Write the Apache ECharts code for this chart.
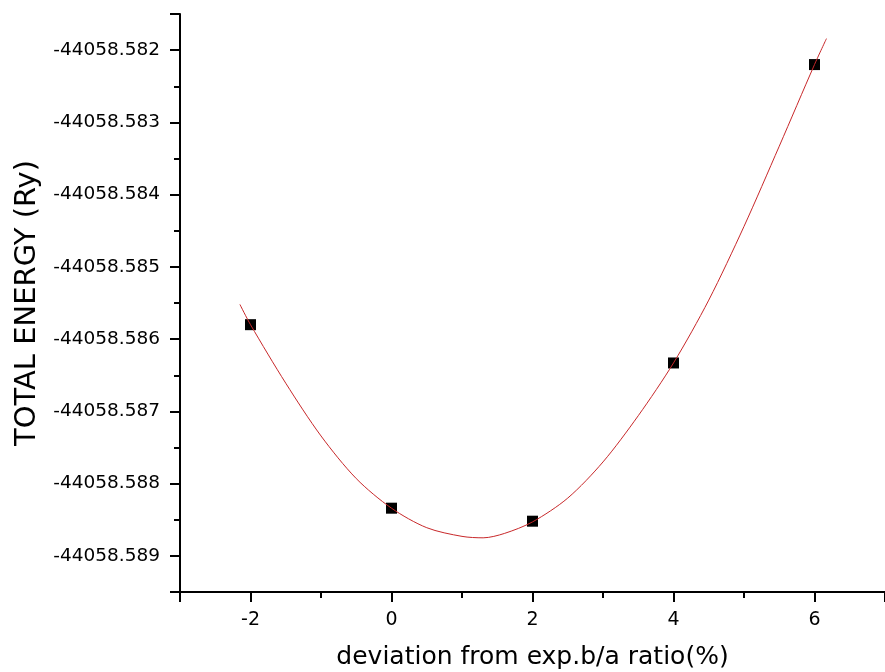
<!DOCTYPE html>
<html lang="en">
<head>
    <meta charset="UTF-8">
    <title>total energy vs b/a deviation</title>
    <script src="https://cdn.jsdelivr.net/npm/echarts@6/dist/echarts.min.js"></script>
    <style>
        html, body { margin: 0; padding: 0; background: #fff; }
        #chart { width: 885px; height: 672px; }
    </style>
</head>
<body>
<div id="chart"></div>

<script>
    // measured points (x = deviation %, y = total energy in Ry)
    var pointX = [-2, 0, 2, 4, 6];
    var pointE = [-44058.5858, -44058.58834, -44058.58852, -44058.58633, -44058.5822];

    // fitted curve
    var curveX = [-2.15, -2, -1.5, -1, -0.5, 0, 0.5, 1, 1.3, 1.6, 2, 2.5, 3, 3.5, 4, 4.5, 5, 5.5, 6, 6.17];
    var curveE = [-44058.58552, -44058.5858, -44058.58661, -44058.58734, -44058.58793, -44058.58834,
        -44058.58861, -44058.58873, -44058.58875, -44058.58869, -44058.58853, -44058.5882,
        -44058.5877, -44058.58706, -44058.58633, -44058.58546, -44058.58444, -44058.58333,
        -44058.5822, -44058.58184];

    var font = 'DejaVu Sans';

    function zip(xs, ys) {
        var out = [];
        for (var i = 0; i < xs.length; i++) out.push([xs[i], ys[i]]);
        return out;
    }
    var pts = zip(pointX, pointE);
    var curve = zip(curveX, curveE);

    var myChart = echarts.init(document.getElementById('chart'));
    var option = {
        animation: false,
        backgroundColor: '#fff',
        grid: {left: 180, right: 0, top: 14, bottom: 80, containLabel: false, outerBoundsMode: 'none'},
        xAxis: {
            type: 'value',
            min: -3,
            max: 7,
            splitNumber: 5,
            name: 'deviation from exp.b/a ratio(%)',
            nameLocation: 'middle',
            nameGap: 53,
            nameTextStyle: {fontFamily: font, fontSize: 25, color: '#000'},
            axisLine: {show: true, onZero: false, lineStyle: {color: '#000', width: 2}},
            axisTick: {show: true, inside: false, length: 10, lineStyle: {color: '#000', width: 2}},
            minorTick: {show: true, splitNumber: 2, length: 6, lineStyle: {color: '#000', width: 2}},
            axisLabel: {
                fontFamily: font, fontSize: 19, color: '#000', margin: 19,
                showMinLabel: false, showMaxLabel: false
            },
            splitLine: {show: false}
        },
        yAxis: {
            type: 'value',
            min: -44058.5895,
            max: -44058.5815,
            splitNumber: 8,
            scale: true,
            name: 'TOTAL ENERGY (Ry)',
            nameLocation: 'middle',
            nameRotate: 90,
            nameGap: 138,
            nameTextStyle: {fontFamily: font, fontSize: 29, color: '#000'},
            axisLine: {show: true, onZero: false, lineStyle: {color: '#000', width: 2}},
            axisTick: {show: true, inside: false, length: 10, lineStyle: {color: '#000', width: 2}},
            minorTick: {show: true, splitNumber: 2, length: 6, lineStyle: {color: '#000', width: 2}},
            axisLabel: {
                fontFamily: font, fontSize: 18.5, color: '#000', margin: 20,
                showMinLabel: false, showMaxLabel: false,
                formatter: function (v) { return v.toFixed(3); }
            },
            splitLine: {show: false}
        },
        series: [
            {
                name: 'data',
                type: 'scatter',
                data: pts,
                symbol: 'rect',
                symbolSize: 11,
                itemStyle: {color: '#000', opacity: 1},
                z: 2
            },
            {
                name: 'fit',
                type: 'line',
                data: curve,
                showSymbol: false,
                smooth: 0.3,
                lineStyle: {color: '#c8282a', width: 1},
                z: 3
            }
        ]
    };
    myChart.setOption(option);
</script>

</body>
</html>
